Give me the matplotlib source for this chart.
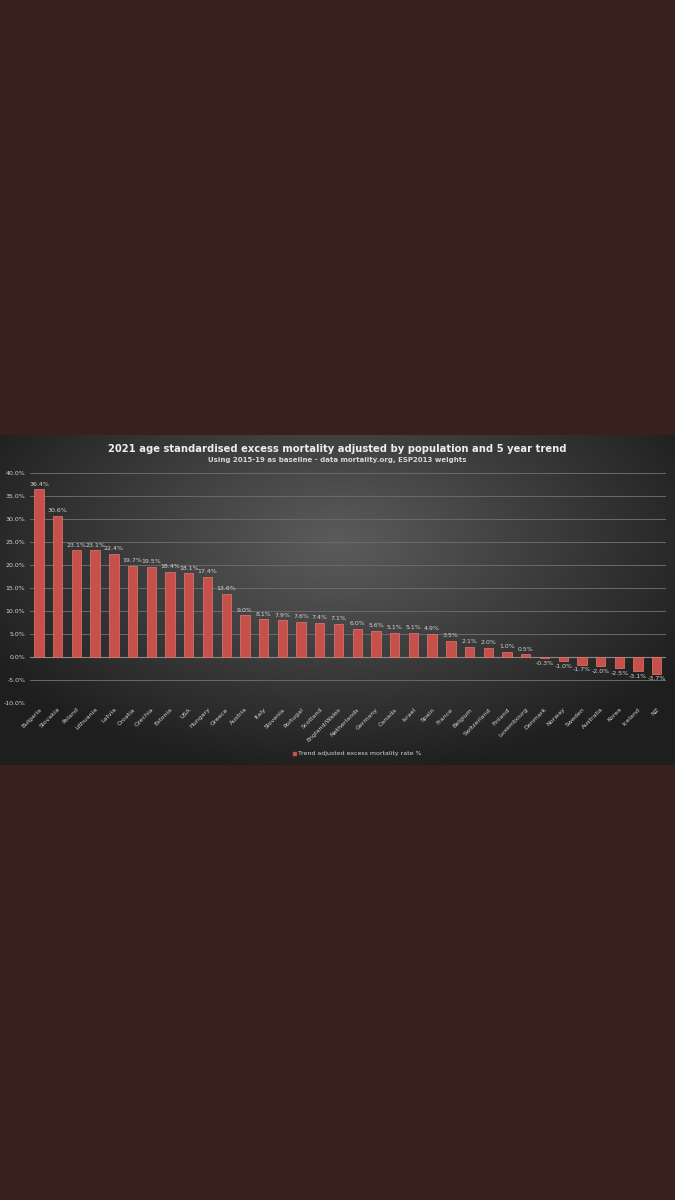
import matplotlib
matplotlib.use("Agg")
import matplotlib.pyplot as plt
import numpy as np

countries = ["Bulgaria", "Slovakia", "Poland", "Lithuania", "Latvia", "Croatia", "Czechia",
             "Estonia", "USA", "Hungary", "Greece", "Austria", "Italy", "Slovenia", "Portugal",
             "Scotland", "England/Wales", "Netherlands", "Germany", "Canada", "Israel", "Spain",
             "France", "Belgium", "Switzerland", "Finland", "Luxembourg", "Denmark", "Norway",
             "Sweden", "Australia", "Korea", "Iceland", "NZ"]
excess = [36.4, 30.6, 23.1, 23.1, 22.4, 19.7, 19.5, 18.4, 18.1, 17.4, 13.6, 9.0, 8.1, 7.9, 7.6,
          7.4, 7.1, 6.0, 5.6, 5.1, 5.1, 4.9, 3.5, 2.1, 2.0, 1.0, 0.5, -0.3, -1.0, -1.7, -2.0,
          -2.5, -3.1, -3.7]
y_ticks = [-10, -5, 0, 5, 10, 15, 20, 25, 30, 35, 40]

title = "2021 age standardised excess mortality adjusted by population and 5 year trend"
subtitle = "Using 2015-19 as baseline - data mortality.org, ESP2013 weights"
legend_label = "Trend adjusted excess mortality rate %"

txt = "#d4d4d4"
fig = plt.figure(figsize=(6.75, 12), dpi=100)
fig.patch.set_facecolor("#3a201d")

# chart panel with a radial gradient
p_bottom, p_top = 1 - 765 / 1200, 1 - 435 / 1200
bg = fig.add_axes([0, p_bottom, 1, p_top - p_bottom])
gx, gy = np.meshgrid(np.linspace(-1, 1, 300), np.linspace(-1, 1, 150))
r = np.sqrt((gx / 1.1) ** 2 + ((gy - 0.35) / 1.3) ** 2)
shade = np.clip(0.36 - 0.22 * r, 0.12, 0.36)
bg.imshow(np.dstack([shade, shade, shade]), aspect="auto", extent=[0, 1, 0, 1], origin="lower")
bg.set_xlim(0, 1)
bg.set_ylim(0, 1)
bg.axis("off")

ax = fig.add_axes([0.0439, 1 - 702.7 / 1200, 0.943, (702.7 - 472.7) / 1200])
ax.set_facecolor("none")
x = np.arange(len(countries))
ax.bar(x, excess, width=0.5, color="#c8504b", edgecolor="#e07a72", linewidth=0.5, zorder=3)
for xi, v in zip(x, excess):
    if v >= 0:
        ax.text(xi, v + 0.6, f"{v:.1f}%", ha="center", va="bottom", fontsize=4.5, color=txt)
    else:
        ax.text(xi, v - 0.6, f"{v:.1f}%", ha="center", va="top", fontsize=4.5, color=txt)

ax.set_xlim(-0.5, len(countries) - 0.5)
ax.set_ylim(-10, 40)
ax.set_yticks(y_ticks)
ax.set_yticklabels([f"{t:.1f}%" for t in y_ticks], fontsize=4.5, color=txt)
ax.set_xticks(x)
ax.set_xticklabels(countries, rotation=45, ha="right", rotation_mode="anchor",
                   fontsize=4.5, color=txt)
ax.tick_params(length=0, pad=3)
ax.grid(axis="y", color="#6a6a6a", linewidth=0.7, zorder=0)
ax.axhline(0, color="#8a8a8a", linewidth=0.8, zorder=2)
for s in ax.spines.values():
    s.set_visible(False)

fig.text(0.5, 1 - 449 / 1200, title, ha="center", va="center", fontsize=7.2,
         fontweight="bold", color="#eeeeee")
fig.text(0.5, 1 - 460 / 1200, subtitle, ha="center", va="center", fontsize=5,
         fontweight="bold", color="#d8d8d8")

# legend
fig.patches.append(plt.Rectangle((0.434, 1 - 755 / 1200), 0.004, 0.0022,
                                 transform=fig.transFigure, color="#c8504b"))
fig.text(0.442, 1 - 753 / 1200, legend_label, ha="left", va="center", fontsize=4.5, color=txt)

fig.savefig("out.png", dpi=100, facecolor=fig.get_facecolor())
